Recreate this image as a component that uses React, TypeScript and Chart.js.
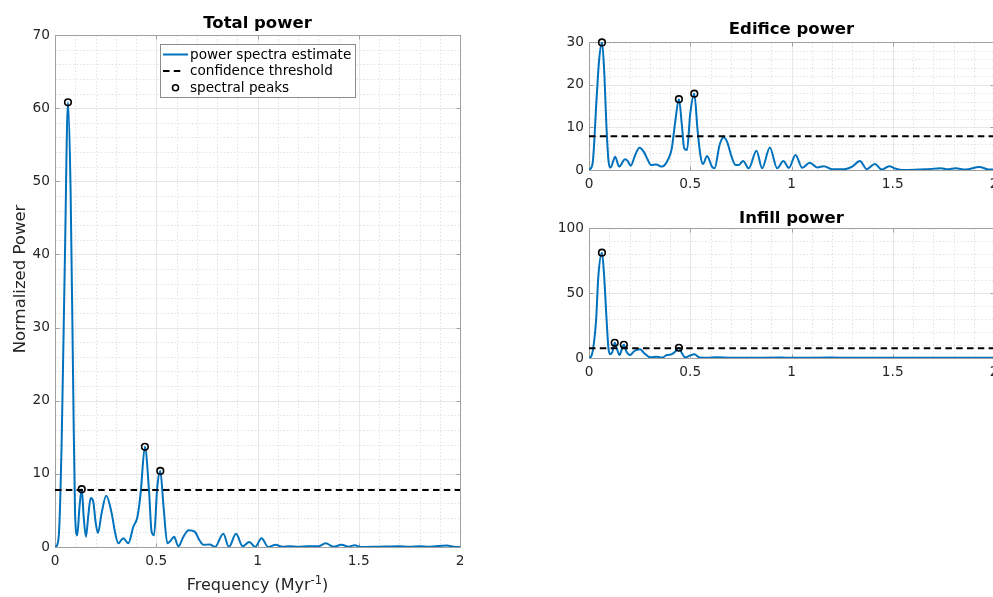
import { useEffect, useRef } from 'react';
import { Chart, registerables } from 'chart.js';

Chart.register(...registerables);

const FONT = '"DejaVu Sans", "Liberation Sans", sans-serif';
const TEXT = '#262626';

// Shared frequency axis (Myr^-1)
const freqTicks = [0, 0.5, 1, 1.5, 2];
const freqMinorStep = 0.1;

// ---- Total power ----
const totalFreq = [
  0, 0.011, 0.021, 0.033, 0.049, 0.064, 0.077, 0.09, 0.099, 0.11, 0.121, 0.132, 0.142, 0.153, 0.165,
  0.176, 0.189, 0.2, 0.212, 0.23, 0.253, 0.28, 0.298, 0.313, 0.337, 0.362, 0.387, 0.407, 0.423, 0.444,
  0.464, 0.477, 0.489, 0.505, 0.52, 0.536, 0.555, 0.572, 0.588, 0.609, 0.634, 0.66, 0.69, 0.712, 0.733,
  0.765, 0.79, 0.831, 0.859, 0.894, 0.927, 0.96, 0.988, 1.02, 1.053, 1.09, 1.12, 1.16, 1.2, 1.25, 1.3,
  1.337, 1.375, 1.415, 1.45, 1.48, 1.51, 1.6, 1.7, 1.75, 1.8, 1.85, 1.934, 1.97, 2.0,
];
const totalPower = [
  0, 0.3, 2.6, 14.6, 39.7, 60.8, 48.8, 21.5, 4.6, 1.6, 5.5, 7.9, 4.0, 1.4, 4.5,
  6.7, 6.2, 3.5, 1.9, 4.6, 7.0, 4.6, 1.8, 0.5, 1.2, 0.5, 2.8, 4.1, 7.4, 13.7,
  7.8, 2.1, 1.6, 8.2, 10.4, 5.5, 0.5, 0.9, 1.4, 0.1, 1.4, 2.3, 2.1, 1.0, 0.3,
  0.35, 0.0, 1.8, 0.0, 1.8, 0.1, 0.7, 0.0, 1.2, 0.0, 0.3, 0.05, 0.1, 0.05, 0.1, 0.1,
  0.5, 0.05, 0.3, 0.05, 0.25, 0.0, 0.05, 0.1, 0.05, 0.1, 0.05, 0.2, 0.05, 0.0,
];
const totalPeakFreq = [0.064, 0.132, 0.444, 0.52];
const totalPeakPower = [60.8, 7.9, 13.7, 10.4];
const totalThreshold = 7.8;
const totalTicks = [0, 10, 20, 30, 40, 50, 60, 70];
const totalMinorStep = 2;

// ---- Edifice power ----
const edificeFreq = [
  0, 0.005, 0.018, 0.038, 0.05, 0.064, 0.074, 0.087, 0.096, 0.107, 0.129, 0.149, 0.178, 0.19, 0.206,
  0.228, 0.249, 0.27, 0.29, 0.305, 0.332, 0.36, 0.393, 0.409, 0.425, 0.444, 0.458, 0.47, 0.484, 0.5,
  0.52, 0.536, 0.55, 0.563, 0.583, 0.607, 0.62, 0.645, 0.665, 0.682, 0.705, 0.723, 0.74, 0.761, 0.789,
  0.827, 0.855, 0.893, 0.929, 0.96, 0.987, 1.02, 1.053, 1.09, 1.127, 1.16, 1.2, 1.26, 1.3, 1.338,
  1.371, 1.412, 1.446, 1.482, 1.515, 1.55, 1.63, 1.66, 1.738, 1.77, 1.81, 1.86, 1.927, 1.977, 2.0,
];
const edificePower = [
  0, 0.2, 1.6, 17.2, 25.8, 29.9, 24.2, 9.4, 2.3, 0.6, 3.1, 0.8, 2.5, 2.2, 1.0,
  3.5, 5.2, 4.3, 2.4, 1.2, 1.3, 0.8, 2.7, 5.1, 11.0, 16.6, 10.9, 5.1, 4.7, 13.3,
  17.9, 9.4, 3.5, 1.4, 3.3, 0.8, 0.4, 5.9, 7.7, 6.6, 3.0, 1.2, 1.2, 2.1, 0.4,
  4.5, 0.4, 5.3, 0.4, 2.1, 0.5, 3.5, 0.5, 1.7, 0.6, 0.9, 0.2, 0.2, 0.8, 2.1,
  0.2, 1.4, 0.1, 0.9, 0.3, 0.0, 0.1, 0.15, 0.4, 0.15, 0.4, 0.1, 0.7, 0.1, 0.1,
];
const edificePeakFreq = [0.064, 0.444, 0.52];
const edificePeakPower = [29.9, 16.6, 17.9];
const edificeThreshold = 7.9;
const edificeTicks = [0, 10, 20, 30];
const edificeMinorStep = 2;

// ---- Infill power ----
const infillFreq = [
  0, 0.005, 0.018, 0.035, 0.046, 0.064, 0.074, 0.087, 0.096, 0.104, 0.115, 0.127, 0.14, 0.15, 0.172,
  0.185, 0.203, 0.224, 0.252, 0.27, 0.302, 0.335, 0.36, 0.385, 0.409, 0.426, 0.444, 0.458, 0.475, 0.5,
  0.52, 0.547, 0.583, 0.63, 0.7, 0.8, 0.95, 1.0, 1.2, 1.3, 1.5, 1.7, 2.0,
];
const infillPower = [
  0, 0.2, 4.9, 29, 62.5, 81, 65, 29, 7.4, 3, 4.6, 11.7, 6, 2.3, 10.2,
  4.9, 2.3, 5.4, 6.7, 4.1, 0.5, 1, 0.3, 2.3, 3, 5, 7.9, 3.8, 0.5, 2,
  2.8, 0.3, 0.1, 0.5, 0.1, 0.2, 0.4, 0.1, 0.3, 0.1, 0.1, 0.2, 0.1,
];
const infillPeakFreq = [0.064, 0.127, 0.172, 0.444];
const infillPeakPower = [81, 11.7, 10.2, 7.9];
const infillThreshold = 7.5;
const infillTicks = [0, 50, 100];
const infillMinorStep = 10;

const legendLabels = ['power spectra estimate', 'confidence threshold', 'spectral peaks'];

const LINE_BLUE = '#0072BD';
const DASH = [6.5, 4.3];

const fmt = (v: number) => String(Number(v.toFixed(3)));

function stepValues(min: number, max: number, step: number) {
  const n = Math.round((max - min) / step);
  const out: number[] = [];
  for (let i = 0; i <= n; i++) out.push(min + i * step);
  return out;
}

// Grid, frame, inward tick marks, titles and legend drawn in a MATLAB-like style
const matlabAxes = {
  id: 'matlabAxes',
  beforeDatasetsDraw(chart: any, _args: any, opts: any) {
    const { ctx, chartArea: a } = chart;
    const xs = chart.scales.x;
    const ys = chart.scales.y;
    const L = Math.round(a.left) + 0.5;
    const R = Math.round(a.right) + 0.5;
    const T = Math.round(a.top) + 0.5;
    const B = Math.round(a.bottom) + 0.5;
    const near = (v: number, arr: number[]) => arr.some((t) => Math.abs(t - v) < 1e-6);
    ctx.save();
    ctx.lineWidth = 1;

    // minor grid (dotted)
    ctx.strokeStyle = '#e2e2e2';
    ctx.setLineDash([1.5, 2]);
    ctx.beginPath();
    for (const v of stepValues(xs.min, xs.max, opts.xMinor)) {
      if (near(v, opts.xTicks)) continue;
      const px = Math.round(xs.getPixelForValue(v)) + 0.5;
      ctx.moveTo(px, T);
      ctx.lineTo(px, B);
    }
    for (const v of stepValues(ys.min, ys.max, opts.yMinor)) {
      if (near(v, opts.yTicks)) continue;
      const py = Math.round(ys.getPixelForValue(v)) + 0.5;
      ctx.moveTo(L, py);
      ctx.lineTo(R, py);
    }
    ctx.stroke();

    // major grid
    ctx.setLineDash([]);
    ctx.strokeStyle = '#e6e6e6';
    ctx.beginPath();
    for (const v of opts.xTicks) {
      const px = Math.round(xs.getPixelForValue(v)) + 0.5;
      ctx.moveTo(px, T);
      ctx.lineTo(px, B);
    }
    for (const v of opts.yTicks) {
      const py = Math.round(ys.getPixelForValue(v)) + 0.5;
      ctx.moveTo(L, py);
      ctx.lineTo(R, py);
    }
    ctx.stroke();

    // frame and inward ticks
    ctx.strokeStyle = '#a0a0a0';
    ctx.strokeRect(L, T, R - L, B - T);
    const tl = 4;
    ctx.beginPath();
    for (const v of opts.xTicks) {
      const px = Math.round(xs.getPixelForValue(v)) + 0.5;
      ctx.moveTo(px, B);
      ctx.lineTo(px, B - tl);
      ctx.moveTo(px, T);
      ctx.lineTo(px, T + tl);
    }
    for (const v of opts.yTicks) {
      const py = Math.round(ys.getPixelForValue(v)) + 0.5;
      ctx.moveTo(L, py);
      ctx.lineTo(L + tl, py);
      ctx.moveTo(R, py);
      ctx.lineTo(R - tl, py);
    }
    ctx.stroke();
    ctx.restore();
  },
  afterDraw(chart: any, _args: any, opts: any) {
    const { ctx, chartArea: a } = chart;
    const cx = (a.left + a.right) / 2;
    ctx.save();

    // title
    ctx.fillStyle = '#000';
    ctx.font = `bold 16.5px ${FONT}`;
    ctx.textAlign = 'center';
    ctx.textBaseline = 'alphabetic';
    ctx.fillText(opts.title, cx, opts.titleBaseline);

    if (opts.xLabel) {
      const main = 'Frequency (Myr';
      const sup = '-1';
      const close = ')';
      ctx.fillStyle = TEXT;
      ctx.font = `16px ${FONT}`;
      const wMain = ctx.measureText(main).width;
      const wClose = ctx.measureText(close).width;
      ctx.font = `11.5px ${FONT}`;
      const wSup = ctx.measureText(sup).width;
      const total = wMain + wSup + wClose;
      let x0 = cx - total / 2;
      const base = opts.xLabelBaseline;
      ctx.textAlign = 'left';
      ctx.font = `16px ${FONT}`;
      ctx.fillText(main, x0, base);
      x0 += wMain;
      ctx.font = `11.5px ${FONT}`;
      ctx.fillText(sup, x0, base - 6);
      x0 += wSup;
      ctx.font = `16px ${FONT}`;
      ctx.fillText(close, x0, base);
    }

    if (opts.yLabel) {
      ctx.save();
      ctx.fillStyle = TEXT;
      ctx.font = `16.5px ${FONT}`;
      ctx.translate(opts.yLabelX, opts.yLabelY);
      ctx.rotate(-Math.PI / 2);
      ctx.textAlign = 'center';
      ctx.textBaseline = 'alphabetic';
      ctx.fillText('Normalized Power', 0, 0);
      ctx.restore();
    }

    if (opts.legend) {
      const bx = 160.5;
      const by = 44.5;
      const bw = 195;
      const bh = 53;
      ctx.fillStyle = '#ffffff';
      ctx.fillRect(bx, by, bw, bh);
      ctx.strokeStyle = '#8c8c8c';
      ctx.lineWidth = 1;
      ctx.strokeRect(bx, by, bw, bh);
      const rows = [54.5, 71, 87.7];
      const sx0 = 163;
      const sx1 = 188;
      // solid line sample
      ctx.strokeStyle = LINE_BLUE;
      ctx.lineWidth = 2;
      ctx.beginPath();
      ctx.moveTo(sx0, rows[0]);
      ctx.lineTo(sx1, rows[0]);
      ctx.stroke();
      // dashed sample
      ctx.strokeStyle = '#000';
      ctx.setLineDash(DASH);
      ctx.beginPath();
      ctx.moveTo(sx0, rows[1]);
      ctx.lineTo(sx1 - 5, rows[1]);
      ctx.stroke();
      ctx.setLineDash([]);
      // marker sample
      ctx.lineWidth = 1.6;
      ctx.beginPath();
      ctx.arc((sx0 + sx1) / 2, rows[2], 3, 0, Math.PI * 2);
      ctx.stroke();
      // labels
      ctx.fillStyle = '#000';
      ctx.font = `13.6px ${FONT}`;
      ctx.textAlign = 'left';
      ctx.textBaseline = 'middle';
      legendLabels.forEach((t, i) => ctx.fillText(t, 190, rows[i] + 0.5));
    }
    ctx.restore();
  },
};

type PanelProps = {
  freq: number[];
  power: number[];
  peakFreq: number[];
  peakPower: number[];
  threshold: number;
  yTicks: number[];
  yMinor: number;
  title: string;
  left: number;
  top: number;
  width: number;
  height: number;
  padTop: number;
  padRight: number;
  yAxisWidth: number;
  xAxisHeight: number;
  titleBaseline: number;
  legend?: boolean;
  xLabel?: boolean;
  yLabel?: boolean;
};

function PowerPanel(p: PanelProps) {
  const ref = useRef<HTMLCanvasElement | null>(null);

  useEffect(() => {
    if (!ref.current) return;
    const yMax = p.yTicks[p.yTicks.length - 1];
    const chart = new Chart(ref.current, {
      type: 'line',
      data: {
        datasets: [
          {
            label: legendLabels[2],
            data: p.peakFreq.map((f, i) => ({ x: f, y: p.peakPower[i] })),
            showLine: false,
            pointRadius: 3.3,
            pointBorderWidth: 1.6,
            pointBorderColor: '#000',
            pointBackgroundColor: 'rgba(0,0,0,0)',
            order: 1,
            clip: false,
          } as any,
          {
            label: legendLabels[1],
            data: [
              { x: freqTicks[0], y: p.threshold },
              { x: freqTicks[freqTicks.length - 1], y: p.threshold },
            ],
            borderColor: '#000',
            borderWidth: 2,
            borderDash: DASH,
            pointRadius: 0,
            order: 2,
          },
          {
            label: legendLabels[0],
            data: p.freq.map((f, i) => ({ x: f, y: p.power[i] })),
            borderColor: LINE_BLUE,
            borderWidth: 2,
            pointRadius: 0,
            cubicInterpolationMode: 'monotone',
            order: 3,
          },
        ],
      },
      options: {
        animation: false,
        responsive: false,
        events: [],
        layout: { padding: { top: p.padTop, right: p.padRight, left: 0, bottom: 0 } },
        plugins: {
          legend: { display: false },
          tooltip: { enabled: false },
          matlabAxes: {
            title: p.title,
            titleBaseline: p.titleBaseline,
            xTicks: freqTicks,
            yTicks: p.yTicks,
            xMinor: freqMinorStep,
            yMinor: p.yMinor,
            legend: !!p.legend,
            xLabel: !!p.xLabel,
            xLabelBaseline: 590,
            yLabel: !!p.yLabel,
            yLabelX: 25,
            yLabelY: 279,
          },
        } as any,
        scales: {
          x: {
            type: 'linear',
            min: freqTicks[0],
            max: freqTicks[freqTicks.length - 1],
            grid: { display: false, drawTicks: false, tickLength: 0 },
            border: { display: false },
            afterBuildTicks: (s: any) => {
              s.ticks = freqTicks.map((value) => ({ value }));
            },
            afterFit: (s: any) => {
              s.height = p.xAxisHeight;
            },
            ticks: {
              color: TEXT,
              font: { family: FONT, size: 13.7 },
              padding: 6,
              maxRotation: 0,
              autoSkip: false,
              callback: (v: any) => fmt(Number(v)),
            },
          },
          y: {
            type: 'linear',
            min: p.yTicks[0],
            max: yMax,
            grid: { display: false, drawTicks: false, tickLength: 0 },
            border: { display: false },
            afterBuildTicks: (s: any) => {
              s.ticks = p.yTicks.map((value) => ({ value }));
            },
            afterFit: (s: any) => {
              s.width = p.yAxisWidth;
            },
            ticks: {
              color: TEXT,
              font: { family: FONT, size: 13.7 },
              padding: 5,
              autoSkip: false,
              callback: (v: any) => fmt(Number(v)),
            },
          },
        },
      },
      plugins: [matlabAxes as any],
    });
    return () => chart.destroy();
  }, []);

  return (
    <canvas
      ref={ref}
      width={p.width}
      height={p.height}
      style={{ position: 'absolute', left: p.left, top: p.top, width: p.width, height: p.height }}
    />
  );
}

export default function App() {
  return (
    <div
      style={{
        position: 'absolute',
        left: 0,
        top: 0,
        width: 993,
        height: 597,
        overflow: 'hidden',
        background: '#ffffff',
      }}
    >
      <PowerPanel
        freq={totalFreq}
        power={totalPower}
        peakFreq={totalPeakFreq}
        peakPower={totalPeakPower}
        threshold={totalThreshold}
        yTicks={totalTicks}
        yMinor={totalMinorStep}
        title="Total power"
        left={0}
        top={0}
        width={480}
        height={597}
        padTop={35}
        padRight={20}
        yAxisWidth={55}
        xAxisHeight={50}
        titleBaseline={28}
        legend
        xLabel
        yLabel
      />
      <PowerPanel
        freq={edificeFreq}
        power={edificePower}
        peakFreq={edificePeakFreq}
        peakPower={edificePeakPower}
        threshold={edificeThreshold}
        yTicks={edificeTicks}
        yMinor={edificeMinorStep}
        title="Edifice power"
        left={520}
        top={0}
        width={500}
        height={200}
        padTop={42}
        padRight={26}
        yAxisWidth={69}
        xAxisHeight={30}
        titleBaseline={34}
      />
      <PowerPanel
        freq={infillFreq}
        power={infillPower}
        peakFreq={infillPeakFreq}
        peakPower={infillPeakPower}
        threshold={infillThreshold}
        yTicks={infillTicks}
        yMinor={infillMinorStep}
        title="Infill power"
        left={520}
        top={200}
        width={500}
        height={188}
        padTop={28}
        padRight={26}
        yAxisWidth={69}
        xAxisHeight={30}
        titleBaseline={23}
      />
    </div>
  );
}
